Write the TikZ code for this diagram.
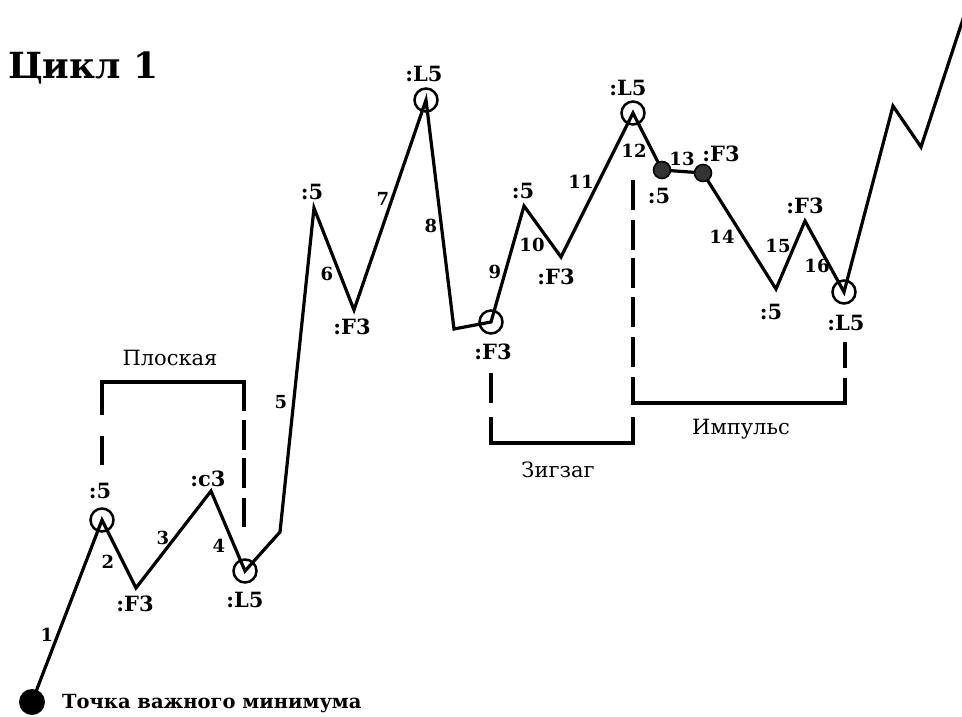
\documentclass[tikz,border=0pt]{standalone}
\usepackage{fontspec}
\setmainfont{DejaVu Serif}
\usetikzlibrary{calc}
\begin{document}
\begin{tikzpicture}[x=1pt,y=-1pt,
  wave/.style={line width=3.2pt, line join=miter, miter limit=20},
  ring/.style={circle, draw, line width=2.5pt, minimum size=23pt, inner sep=0pt},
  sdot/.style={circle, draw, fill=black!80, line width=1.6pt, minimum size=17pt, inner sep=0pt},
  bigdot/.style={circle, fill=black, minimum size=26pt, inner sep=0pt},
  lbl/.style={font=\bfseries\fontsize{21}{21}\selectfont, inner sep=0pt},
  num/.style={font=\bfseries\fontsize{18}{18}\selectfont, inner sep=0pt},
  captext/.style={font=\fontsize{21}{21}\selectfont, inner sep=0pt},
  brk/.style={line width=3.6pt}]
\useasboundingbox (0,0) rectangle (962,717);

% wave points
\coordinate (p0) at (32,702);
\coordinate (p1) at (102,520);
\coordinate (p2) at (136,588);
\coordinate (p3) at (211,491);
\coordinate (p4) at (245,571);
\coordinate (p5) at (280,532);
\coordinate (p6) at (314,208);
\coordinate (p7) at (354,310);
\coordinate (p8) at (426,100);
\coordinate (p9) at (454,329);
\coordinate (p10) at (491,322);
\coordinate (p11) at (524,206);
\coordinate (p12) at (561,257);
\coordinate (p13) at (633,113);
\coordinate (p14) at (662,170);
\coordinate (p15) at (703,173);
\coordinate (p16) at (776,289);
\coordinate (p17) at (805,221);
\coordinate (p18) at (844,292);
\coordinate (p19) at (893,106);
\coordinate (p20) at (921,147);
\coordinate (p21) at (964,16);

\draw[wave] (p0) -- (p1) -- (p2) -- (p3) -- (p4) -- (p5) -- (p6) -- (p7) -- (p8)
  -- (p9) -- (p10) -- (p11) -- (p12) -- (p13) -- (p14) -- (p15) -- (p16) -- (p17)
  -- (p18) -- (p19) -- (p20) -- (p21);

\node[bigdot] (d0) at (p0) {};
\node[ring] (c1) at (p1) {};
\node[ring] (c4) at (p4) {};
\node[ring] (c8) at (p8) {};
\node[ring] (c10) at (p10) {};
\node[ring] (c13) at (p13) {};
\node[ring] (c18) at (p18) {};
\node[sdot] (s14) at (p14) {};
\node[sdot] (s15) at (p15) {};

% point labels
\node[lbl] (l1) at (100,491) {:5};
\node[lbl] (l2) at (135,604) {:F3};
\node[lbl] (l3) at (208,479) {:c3};
\node[lbl] (l4) at (245,600) {:L5};
\node[lbl] (l6) at (312,192) {:5};
\node[lbl] (l7) at (352,327) {:F3};
\node[lbl] (l8) at (424,74) {:L5};
\node[lbl] (l10) at (493,352) {:F3};
\node[lbl] (l11) at (523,191) {:5};
\node[lbl] (l12) at (556,277) {:F3};
\node[lbl] (l13) at (628,88) {:L5};
\node[lbl] (l14) at (659,196) {:5};
\node[lbl] (l15) at (721,154) {:F3};
\node[lbl] (l16) at (771,312) {:5};
\node[lbl] (l17) at (805,206) {:F3};
\node[lbl] (l18) at (846,323) {:L5};

% segment numbers
\node[num] (n1) at (47,635) {1};
\node[num] (n2) at (108,562) {2};
\node[num] (n3) at (163,538) {3};
\node[num] (n4) at (219,546) {4};
\node[num] (n5) at (281,402) {5};
\node[num] (n6) at (327,274) {6};
\node[num] (n7) at (383,199) {7};
\node[num] (n8) at (431,226) {8};
\node[num] (n9) at (495,272) {9};
\node[num] (n10) at (532,245) {10};
\node[num] (n11) at (581,182) {11};
\node[num] (n12) at (634,151) {12};
\node[num] (n13) at (682,159) {13};
\node[num] (n14) at (722,237) {14};
\node[num] (n15) at (778,246) {15};
\node[num] (n16) at (817,266) {16};

% titles
\node[font=\bfseries\fontsize{36}{36}\selectfont, inner sep=0pt, anchor=base west] (title) at (8,79) {Цикл 1};
\node[font=\bfseries\fontsize{19.5}{19.5}\selectfont, inner sep=0pt, anchor=base west] (tmin) at (62,708) {Точка важного минимума};

% bracket: Плоская
\coordinate (fa) at (102,382);
\coordinate (fb) at (244,382);
\draw[brk] ($(fa)+(0,33)$) -- (fa) -- (fb) -- ++(0,29);
\draw[brk] (102,436) -- (102,465);
\draw[brk] (244,420) -- (244,450);
\draw[brk] (244,458) -- (244,488);
\draw[brk] (244,498) -- (244,527);
\node[captext] (tflat) at (170,358) {Плоская};

% bracket: Зигзаг
\coordinate (za) at (491,443);
\coordinate (zb) at (633,443);
\draw[brk] (491,417) -- (za) -- (zb) -- (633,417);
\draw[brk] (491,373) -- (491,403);
\node[captext] (tzig) at (558,470) {Зигзаг};

% bracket: Импульс
\coordinate (ia) at (633,403);
\coordinate (ib) at (845,403);
\draw[brk] (633,377) -- (ia) -- (ib) -- (845,378);
\draw[brk] (845,342) -- (845,368);
\foreach \y in {180,220,258,297,337} \draw[brk] (633,\y) -- (633,\y+30);
\node[captext] (timp) at (741,429) {Импульс};
\end{tikzpicture}
\end{document}
